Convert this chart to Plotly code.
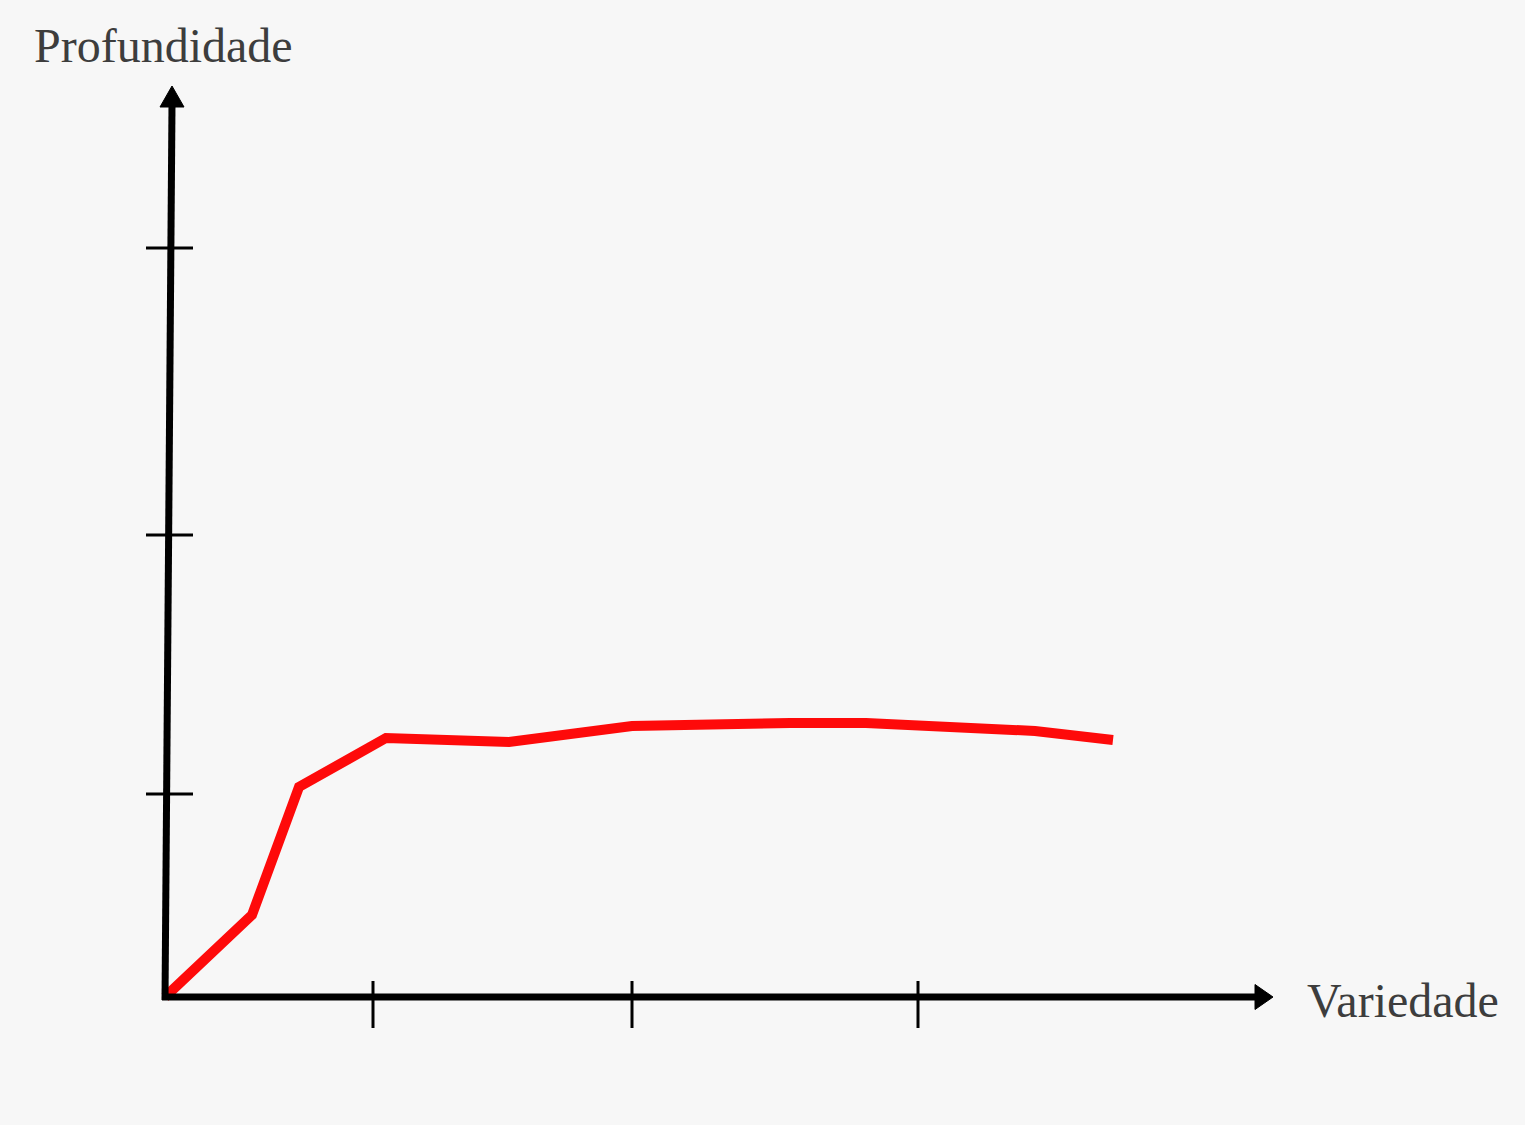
import plotly.graph_objects as go

# Data (chart units; hand-drawn sketch)
variedade = [0.00, 0.87, 1.34, 2.21, 3.44, 4.67, 6.25, 7.01, 8.70, 9.48]
profundidade = [0.00, 0.82, 2.10, 2.59, 2.55, 2.71, 2.74, 2.74, 2.66, 2.57]
x_ticks = [2.08, 4.67, 7.53]
y_ticks = [2.03, 4.62, 7.49]
x_label = "Variedade"
y_label = "Profundidade"

W, H = 1525, 1125
BG = "#f7f7f7"
FONT = "Liberation Serif"
TXT = "#3d3d3d"

fig = go.Figure()
fig.add_trace(go.Scatter(
    x=variedade, y=profundidade, mode="lines",
    line=dict(color="#fe0a0a", width=10),
    hoverinfo="skip", showlegend=False,
))

shapes = []
# x axis line
shapes.append(dict(type="line", x0=-0.03, y0=0, x1=10.92, y1=0,
                   line=dict(color="black", width=7), layer="above"))
# y axis line (slightly tilted, hand-drawn)
shapes.append(dict(type="line", x0=0, y0=-0.03, x1=0.07, y1=8.92,
                   line=dict(color="black", width=7), layer="above"))
# arrow heads
shapes.append(dict(type="path", path="M 10.90 0.125 L 11.08 0 L 10.90 -0.125 Z",
                   fillcolor="black", line=dict(color="black", width=1), layer="above"))
shapes.append(dict(type="path", path="M -0.05 8.90 L 0.07 9.11 L 0.19 8.90 Z",
                   fillcolor="black", line=dict(color="black", width=1), layer="above"))
# ticks
for xt in x_ticks:
    shapes.append(dict(type="line", x0=xt, y0=0.16, x1=xt, y1=-0.31,
                       line=dict(color="black", width=3), layer="above"))
for yt in y_ticks:
    shapes.append(dict(type="line", x0=-0.19, y0=yt, x1=0.28, y1=yt,
                       line=dict(color="black", width=3), layer="above"))

fig.update_layout(
    width=W, height=H,
    margin=dict(l=0, r=0, t=0, b=0),
    paper_bgcolor=BG, plot_bgcolor=BG,
    xaxis=dict(range=[-1.65, 13.60], visible=False, fixedrange=True),
    yaxis=dict(range=[-1.28, 9.97], visible=False, fixedrange=True),
    shapes=shapes,
    annotations=[
        dict(text=y_label, x=-1.33, y=9.52, xref="x", yref="y",
             xanchor="left", yanchor="middle", showarrow=False,
             font=dict(family=FONT, size=48, color=TXT)),
        dict(text=x_label, x=11.40, y=-0.03, xref="x", yref="y",
             xanchor="left", yanchor="middle", showarrow=False,
             font=dict(family=FONT, size=48, color=TXT)),
    ],
)

fig.write_html(
    "out.html",
    config={"displayModeBar": False},
    post_script="document.body.style.margin='0';document.body.style.background='#f7f7f7';document.body.style.overflow='hidden';",
)
